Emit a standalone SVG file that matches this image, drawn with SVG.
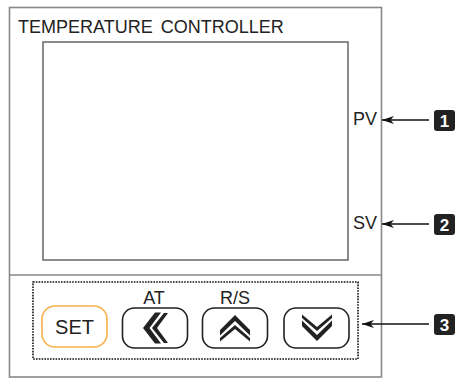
<svg xmlns="http://www.w3.org/2000/svg" width="460" height="379" viewBox="0 0 460 379">
<style>
text{font-family:"Liberation Sans",Arial,sans-serif;fill:#222}
.lbl{font-size:18px}
.btn{fill:#fff;stroke:#222;stroke-width:1.6}
.chev{fill:#222}
.badge rect{fill:#222}
.badge text{fill:#fff;font-weight:bold;font-size:17px;text-anchor:middle}
.conn{stroke:#111;stroke-width:1.4;fill:none}
</style>
<defs>
<marker id="ah" viewBox="0 0 12 8" refX="12" refY="4" markerWidth="12" markerHeight="8" markerUnits="userSpaceOnUse" orient="auto">
<path d="M12,4 L0,0 L3.5,4 L0,8 Z" fill="#111"/>
</marker>
</defs>
<g id="controller">
<rect x="9.5" y="7.5" width="372" height="369.5" fill="#fff" stroke="#888" stroke-width="1.6"/>
<line x1="9.5" y1="275" x2="381.5" y2="275" stroke="#888" stroke-width="1.6"/>
<text x="18" y="33" class="lbl" word-spacing="3">TEMPERATURE CONTROLLER</text>
</g>
<g id="display">
<rect x="43" y="42" width="305" height="218" fill="#fff" stroke="#666" stroke-width="1.5"/>
<text x="353" y="125" class="lbl">PV</text>
<text x="353" y="229" class="lbl">SV</text>
</g>
<g id="keypad">
<rect x="33" y="282" width="325" height="77" fill="none" stroke="#111" stroke-width="1.6" stroke-dasharray="1.6 1.2"/>
</g>
<g id="btn-set">
<rect x="42" y="306" width="65" height="41" rx="13" fill="#fff" stroke="#f7b04a" stroke-width="1.6"/>
<text x="74.5" y="334" font-size="20" text-anchor="middle">SET</text>
</g>
<g id="btn-at">
<text x="154" y="304" class="lbl" text-anchor="middle">AT</text>
<rect x="122.5" y="308" width="65" height="40" rx="12" class="btn"/>
<polygon class="chev" points="143,328 155,312.5 161,312.5 149.5,328 161,343.5 155,343.5"/>
<polygon class="chev" points="152,328 164,313 168,313 157,328 168,343 164,343"/>
</g>
<g id="btn-rs">
<text x="235" y="304" class="lbl" text-anchor="middle">R/S</text>
<rect x="202.5" y="308" width="65" height="40" rx="12" class="btn"/>
<polygon class="chev" points="235,315 250,330 250,335.5 235,321 220,335.5 220,330"/>
<polygon class="chev" points="235,325 250,338 250,341.5 235,329 220,341.5 220,338"/>
</g>
<g id="btn-down">
<rect x="284" y="308" width="65" height="40" rx="12" class="btn"/>
<polygon class="chev" points="317,341 302,326 302,320.5 317,335 332,320.5 332,326"/>
<polygon class="chev" points="317,331 302,318 302,314.5 317,327 332,314.5 332,318"/>
</g>
<g id="badge-1" class="badge">
<rect x="434" y="110" width="21" height="21" rx="3"/>
<text x="444.5" y="127">1</text>
</g>
<g id="badge-2" class="badge">
<rect x="434" y="214" width="21" height="21" rx="3"/>
<text x="444.5" y="231">2</text>
</g>
<g id="badge-3" class="badge">
<rect x="434" y="314" width="21" height="21" rx="3"/>
<text x="444.5" y="331">3</text>
</g>
<g id="connectors">
<line class="conn" x1="429" y1="120" x2="382" y2="120" marker-end="url(#ah)"/>
<line class="conn" x1="429" y1="224" x2="382" y2="224" marker-end="url(#ah)"/>
<line class="conn" x1="429" y1="324" x2="362" y2="324" marker-end="url(#ah)"/>
</g>
</svg>
